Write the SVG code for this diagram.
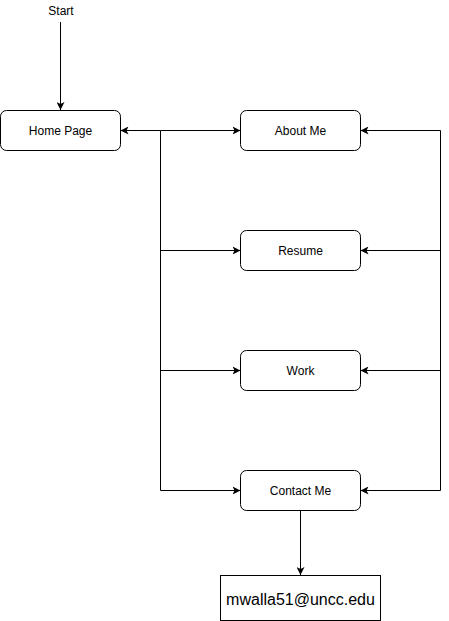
<svg xmlns="http://www.w3.org/2000/svg" width="449" height="621" viewBox="0 0 449 621">
<defs>
<marker id="ah" viewBox="0 0 10 10" refX="10" refY="5" markerWidth="8" markerHeight="8" markerUnits="userSpaceOnUse" orient="auto">
<path d="M0,0 L10,5 L0,10 L2.5,5 Z" fill="#000"/>
</marker>
</defs>
<style>
.n{fill:#fff;stroke:#000;stroke-width:1}
.t{font-family:"Liberation Sans",Arial,sans-serif;font-size:12px;fill:#000;text-anchor:middle;dominant-baseline:central}
.c{fill:none;stroke:#000;stroke-width:1}
</style>
<rect width="449" height="621" fill="#fff"/>
<g id="connectors">
<path class="c" d="M60.5,22 L60.5,110" marker-end="url(#ah)"/>
<path class="c" d="M160.5,130.5 L120.5,130.5" marker-end="url(#ah)"/>
<path class="c" d="M160.5,130.5 L160.5,490.5"/>
<path class="c" d="M160.5,130.5 L240.5,130.5" marker-end="url(#ah)"/>
<path class="c" d="M160.5,250.5 L240.5,250.5" marker-end="url(#ah)"/>
<path class="c" d="M160.5,370.5 L240.5,370.5" marker-end="url(#ah)"/>
<path class="c" d="M160.5,490.5 L240.5,490.5" marker-end="url(#ah)"/>
<path class="c" d="M440.5,130.5 L440.5,490.5"/>
<path class="c" d="M440.5,130.5 L360.5,130.5" marker-end="url(#ah)"/>
<path class="c" d="M440.5,250.5 L360.5,250.5" marker-end="url(#ah)"/>
<path class="c" d="M440.5,370.5 L360.5,370.5" marker-end="url(#ah)"/>
<path class="c" d="M440.5,490.5 L360.5,490.5" marker-end="url(#ah)"/>
<path class="c" d="M300.5,510.5 L300.5,575" marker-end="url(#ah)"/>
</g>
<g id="start"><text class="t" x="61" y="11">Start</text></g>
<g id="home"><rect class="n" x="0.5" y="110.5" width="120" height="40" rx="6"/><text class="t" x="60.5" y="130.5">Home Page</text></g>
<g id="about"><rect class="n" x="240.5" y="110.5" width="120" height="40" rx="6"/><text class="t" x="300.5" y="130.5">About Me</text></g>
<g id="resume"><rect class="n" x="240.5" y="230.5" width="120" height="40" rx="6"/><text class="t" x="300.5" y="250.5">Resume</text></g>
<g id="work"><rect class="n" x="240.5" y="350.5" width="120" height="40" rx="6"/><text class="t" x="300.5" y="370.5">Work</text></g>
<g id="contact"><rect class="n" x="240.5" y="470.5" width="120" height="40" rx="6"/><text class="t" x="300.5" y="490.5">Contact Me</text></g>
<g id="email"><rect class="n" x="220.5" y="575.5" width="160" height="45"/><text class="t" x="300.5" y="599" style="font-size:16px">mwalla51@uncc.edu</text></g>
</svg>
